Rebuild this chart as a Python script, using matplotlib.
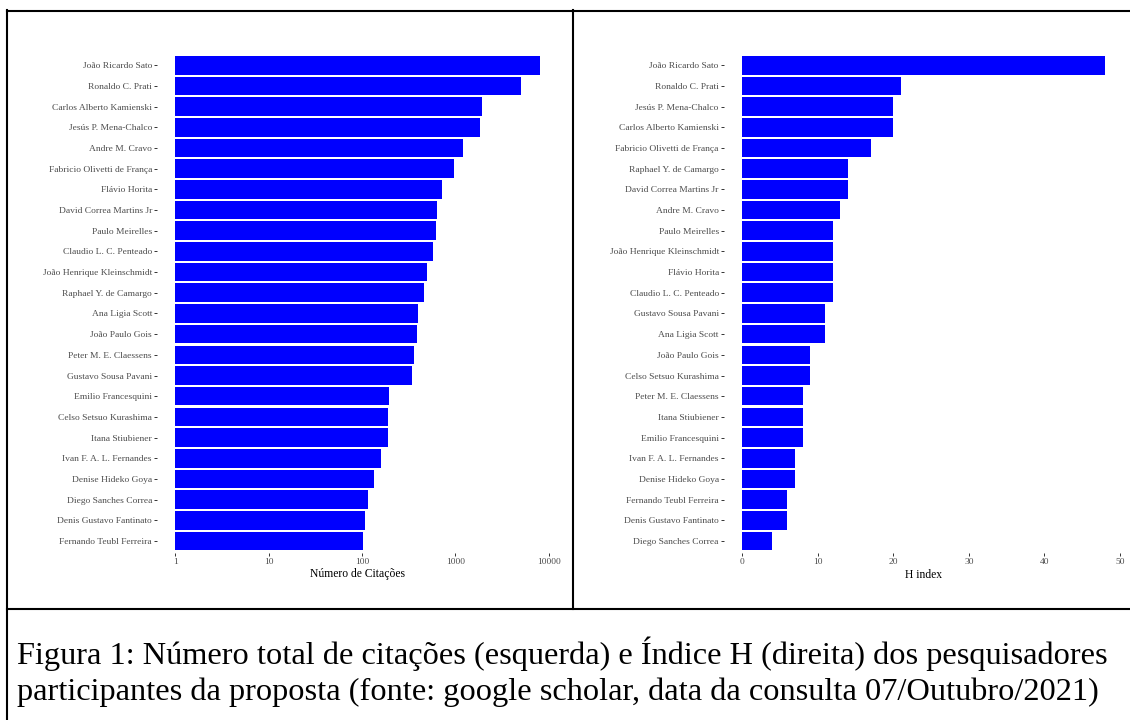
import numpy as np
import matplotlib
matplotlib.use("Agg")
import matplotlib.pyplot as plt
from matplotlib.lines import Line2D

# ---------------- data ----------------
cit_names = ["João Ricardo Sato", "Ronaldo C. Prati", "Carlos Alberto Kamienski",
             "Jesús P. Mena-Chalco", "Andre M. Cravo", "Fabricio Olivetti de França",
             "Flávio Horita", "David Correa Martins Jr", "Paulo Meirelles",
             "Claudio L. C. Penteado", "João Henrique Kleinschmidt", "Raphael Y. de Camargo",
             "Ana Ligia Scott", "João Paulo Gois", "Peter M. E. Claessens",
             "Gustavo Sousa Pavani", "Emilio Francesquini", "Celso Setsuo Kurashima",
             "Itana Stiubiener", "Ivan F. A. L. Fernandes", "Denise Hideko Goya",
             "Diego Sanches Correa", "Denis Gustavo Fantinato", "Fernando Teubl Ferreira"]
cit_values = [8030, 4990, 1940, 1815, 1200, 965, 710, 630, 615, 578, 492, 457,
              400, 384, 360, 340, 194, 191, 190, 161, 134, 115, 107, 103]

h_names = ["João Ricardo Sato", "Ronaldo C. Prati", "Jesús P. Mena-Chalco",
           "Carlos Alberto Kamienski", "Fabricio Olivetti de França", "Raphael Y. de Camargo",
           "David Correa Martins Jr", "Andre M. Cravo", "Paulo Meirelles",
           "João Henrique Kleinschmidt", "Flávio Horita", "Claudio L. C. Penteado",
           "Gustavo Sousa Pavani", "Ana Ligia Scott", "João Paulo Gois",
           "Celso Setsuo Kurashima", "Peter M. E. Claessens", "Itana Stiubiener",
           "Emilio Francesquini", "Ivan F. A. L. Fernandes", "Denise Hideko Goya",
           "Fernando Teubl Ferreira", "Denis Gustavo Fantinato", "Diego Sanches Correa"]
h_values = [48, 21, 20, 20, 17, 14, 14, 13, 12, 12, 12, 12, 11, 11, 9, 9, 8, 8, 8, 7, 7, 6, 6, 4]

cit_ticks = [1, 10, 100, 1000, 10000]
cit_ticklabels = ["1", "10", "100", "1000", "10000"]
h_ticks = [0, 10, 20, 30, 40, 50]

xlabel_left = "Número de Citações"
xlabel_right = "H index"
caption_lines = [
    "Figura 1: Número total de citações (esquerda) e Índice H (direita) dos pesquisadores",
    "participantes da proposta (fonte: google scholar, data da consulta 07/Outubro/2021)",
]

# ---------------- figure ----------------
W, H = 1130, 720
fig = plt.figure(figsize=(W / 100, H / 100), dpi=100)
fig.patch.set_facecolor("white")
plt.rcParams["font.family"] = ["Liberation Serif", "DejaVu Serif"]


def px_axes(x0, x1, y0, y1):
    return fig.add_axes([x0 / W, 1 - y1 / H, (x1 - x0) / W, (y1 - y0) / H])


BAR_COLOR = "#0000FF"
TXT_GREY = "#4D4D4D"
TICK_FS = 6.8
TITLE_FS = 8.4

panel_top, panel_bot = 52.8, 553.4


def style_axes(ax, names):
    n = len(names)
    ax.set_ylim(n - 0.4, -0.6)
    ax.set_yticks(np.arange(n))
    ax.set_yticklabels(names, fontsize=TICK_FS, color=TXT_GREY)
    for s in ax.spines.values():
        s.set_visible(False)
    ax.tick_params(axis="both", which="major", length=2.2, width=0.7, color="#333333",
                   labelsize=TICK_FS, labelcolor=TXT_GREY)
    ax.tick_params(axis="y", pad=1.5)
    ax.tick_params(axis="x", pad=1.0)
    ax.tick_params(which="minor", length=0)
    ax.set_facecolor("white")


# left: citations (log scale)
axL = px_axes(157.1, 558.2, panel_top, panel_bot)
yL = np.arange(len(cit_names))
vals = np.array(cit_values, dtype=float)
axL.set_xscale("log")
axL.barh(yL, vals - 1, left=1, height=0.9, color=BAR_COLOR, edgecolor="none")
hi = np.log10(vals.max())
axL.set_xlim(10 ** (-0.05 * hi), 10 ** (hi * 1.05))
axL.set_xticks(cit_ticks)
axL.set_xticklabels(cit_ticklabels)
axL.xaxis.set_minor_locator(matplotlib.ticker.NullLocator())
style_axes(axL, cit_names)

# right: H index
axR = px_axes(723.9, 1123.0, panel_top, panel_bot)
yR = np.arange(len(h_names))
hv = np.array(h_values, dtype=float)
axR.barh(yR, hv, height=0.9, color=BAR_COLOR, edgecolor="none")
axR.set_xlim(-0.05 * hv.max(), hv.max() * 1.05)
axR.set_xticks(h_ticks)
axR.set_xticklabels([str(t) for t in h_ticks])
style_axes(axR, h_names)

# axis titles
fig.text(357.7 / W, 1 - 574.5 / H, xlabel_left, ha="center", va="center",
         fontsize=TITLE_FS, color="black")
fig.text(923.5 / W, 1 - 574.5 / H, xlabel_right, ha="center", va="center",
         fontsize=TITLE_FS, color="black")

# table borders
lw = 1.5
def hline(y, x0, x1):
    fig.add_artist(Line2D([x0 / W, x1 / W], [1 - y / H, 1 - y / H], color="black",
                          linewidth=lw, transform=fig.transFigure))
def vline(x, y0, y1):
    fig.add_artist(Line2D([x / W, x / W], [1 - y0 / H, 1 - y1 / H], color="black",
                          linewidth=lw, transform=fig.transFigure))

hline(10.7, 7.3, W + 5)
hline(608.5, 7.3, W + 5)
vline(7.3, 10.0, H + 5)
vline(573.3, 10.0, 609)

# caption
cap_fs = 21.6
t1 = fig.text(17 / W, 1 - 664 / H, caption_lines[0], ha="left", va="baseline",
              fontsize=cap_fs, color="black")
t2 = fig.text(17 / W, 1 - 700 / H, caption_lines[1], ha="left", va="baseline",
              fontsize=cap_fs, color="black")
# fit second line width (natural, unjustified) to the reference width
fig.canvas.draw()
r = fig.canvas.get_renderer()
w2 = t2.get_window_extent(r).width
scale = 1080.0 / w2
t1.set_fontsize(cap_fs * scale)
t2.set_fontsize(cap_fs * scale)

fig.savefig("out.png", dpi=100, facecolor="white")
